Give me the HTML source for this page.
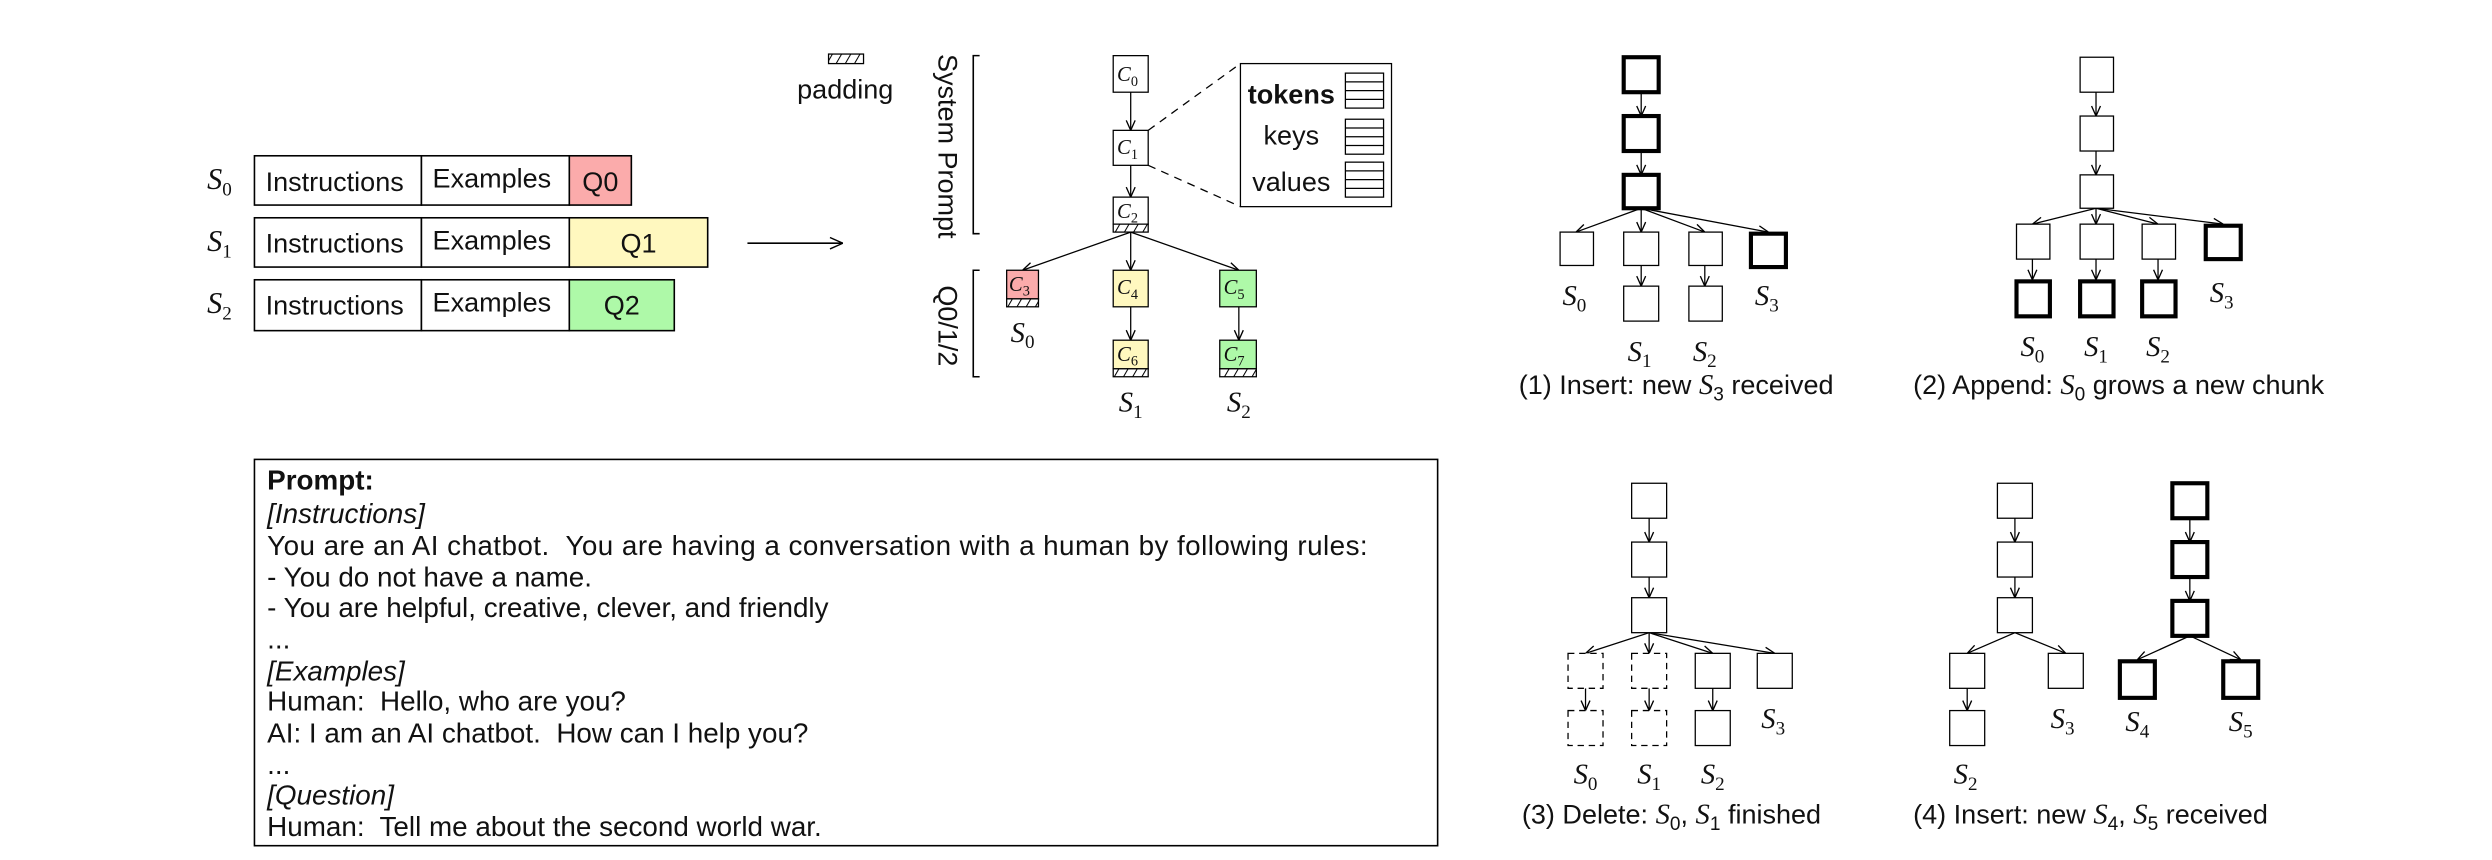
<!DOCTYPE html>
<html><head><meta charset="utf-8"><style>
html,body{margin:0;padding:0;background:#fff;}
svg{display:block;}
text{font-family:"Liberation Sans",sans-serif;fill:#111;white-space:pre;}
.m{font-family:"Liberation Serif",serif;font-style:italic;}
.sub{font-style:normal;}
</style></head><body>
<svg width="2492" height="860" viewBox="0 0 1567 541" preserveAspectRatio="none" xmlns="http://www.w3.org/2000/svg">
<defs>
<marker id="a" viewBox="0 0 10 10" refX="10" refY="5" markerWidth="7" markerHeight="7" orient="auto" markerUnits="userSpaceOnUse">
<path d="M1,1 L10,5 L1,9" fill="none" stroke="#000" stroke-width="1.2"/></marker>
<marker id="b" viewBox="0 0 10 10" refX="10" refY="5" markerWidth="9" markerHeight="9" orient="auto" markerUnits="userSpaceOnUse">
<path d="M1,1 L10,5 L1,9" fill="none" stroke="#000" stroke-width="1"/></marker>
<pattern id="h" width="5" height="5" patternUnits="userSpaceOnUse" patternTransform="rotate(30)">
<rect width="5" height="5" fill="#fff"/><line x1="0" y1="0" x2="0" y2="5" stroke="#000" stroke-width="1.3"/></pattern>
</defs>

<g stroke="#000" stroke-width="1">
<rect x="160" y="98" width="105" height="31" fill="#fff"/><rect x="265" y="98" width="93" height="31" fill="#fff"/><rect x="358" y="98" width="39" height="31" fill="#fbabab"/>
<rect x="160" y="137" width="105" height="31" fill="#fff"/><rect x="265" y="137" width="93" height="31" fill="#fff"/><rect x="358" y="137" width="87" height="31" fill="#fff8bf"/>
<rect x="160" y="176" width="105" height="32" fill="#fff"/><rect x="265" y="176" width="93" height="32" fill="#fff"/><rect x="358" y="176" width="66" height="32" fill="#aef9a8"/>
</g>
<g font-size="17">
<text x="167" y="120">Instructions</text><text x="272" y="118">Examples</text><text x="377.5" y="120" text-anchor="middle">Q0</text>
<text x="167" y="159">Instructions</text><text x="272" y="157">Examples</text><text x="401.5" y="159" text-anchor="middle">Q1</text>
<text x="167" y="198">Instructions</text><text x="272" y="196">Examples</text><text x="391" y="198" text-anchor="middle">Q2</text>
</g>
<g font-size="19">
<text class="m" x="138" y="119" text-anchor="middle">S<tspan class="sub" font-size="12" dy="4">0</tspan></text>
<text class="m" x="138" y="158" text-anchor="middle">S<tspan class="sub" font-size="12" dy="4">1</tspan></text>
<text class="m" x="138" y="197" text-anchor="middle">S<tspan class="sub" font-size="12" dy="4">2</tspan></text>
</g>
<line x1="470" y1="153" x2="530" y2="153" stroke="#000" stroke-width="1" marker-end="url(#b)"/>

<rect x="521" y="34" width="22" height="6" fill="url(#h)" stroke="#000" stroke-width="0.8"/>
<text x="531.5" y="62" font-size="17" text-anchor="middle">padding</text>

<text font-size="17" transform="translate(590,92) rotate(90)" text-anchor="middle">System Prompt</text>
<text font-size="17" transform="translate(590,205) rotate(90)" text-anchor="middle">Q0/1/2</text>
<path d="M616,35 L612,35 L612,147 L616,147" fill="none" stroke="#000" stroke-width="1"/>
<path d="M616,170 L612,170 L612,237 L616,237" fill="none" stroke="#000" stroke-width="1"/>

<g stroke="#000" stroke-width="0.8">
<line x1="711" y1="58" x2="711" y2="82" marker-end="url(#a)"/>
<line x1="711" y1="104" x2="711" y2="124" marker-end="url(#a)"/>
<line x1="711" y1="146" x2="643" y2="170" marker-end="url(#a)"/>
<line x1="711" y1="146" x2="711" y2="170" marker-end="url(#a)"/>
<line x1="711" y1="146" x2="779" y2="170" marker-end="url(#a)"/>
<line x1="711" y1="193" x2="711" y2="214" marker-end="url(#a)"/>
<line x1="779" y1="193" x2="779" y2="214" marker-end="url(#a)"/>
<rect x="700" y="35" width="22" height="23" fill="#fff"/>
<rect x="700" y="82" width="22" height="22" fill="#fff"/>
<rect x="700" y="124" width="22" height="17" fill="#fff"/><rect x="700" y="141" width="22" height="5" fill="url(#h)"/>
<rect x="633" y="170" width="20" height="18" fill="#fbabab"/><rect x="633" y="188" width="20" height="5" fill="url(#h)"/>
<rect x="700" y="170" width="22" height="23" fill="#fff8bf"/>
<rect x="767" y="170" width="23" height="23" fill="#aef9a8"/>
<rect x="700" y="214" width="22" height="18" fill="#fff8bf"/><rect x="700" y="232" width="22" height="5" fill="url(#h)"/>
<rect x="767" y="214" width="23" height="18" fill="#aef9a8"/><rect x="767" y="232" width="23" height="5" fill="url(#h)"/>
<line x1="722" y1="82" x2="780" y2="40" stroke-dasharray="5,4"/>
<line x1="722" y1="104" x2="780" y2="130" stroke-dasharray="5,4"/>
<rect x="780" y="40" width="95" height="90" fill="#fff"/>
</g>
<g font-size="13">
<text class="m" x="709" y="51" text-anchor="middle">C<tspan class="sub" font-size="9" dy="3">0</tspan></text>
<text class="m" x="709" y="97" text-anchor="middle">C<tspan class="sub" font-size="9" dy="3">1</tspan></text>
<text class="m" x="709" y="137" text-anchor="middle">C<tspan class="sub" font-size="9" dy="3">2</tspan></text>
<text class="m" x="641" y="183" text-anchor="middle">C<tspan class="sub" font-size="9" dy="3">3</tspan></text>
<text class="m" x="709" y="185" text-anchor="middle">C<tspan class="sub" font-size="9" dy="3">4</tspan></text>
<text class="m" x="776" y="185" text-anchor="middle">C<tspan class="sub" font-size="9" dy="3">5</tspan></text>
<text class="m" x="709" y="227" text-anchor="middle">C<tspan class="sub" font-size="9" dy="3">6</tspan></text>
<text class="m" x="776" y="227" text-anchor="middle">C<tspan class="sub" font-size="9" dy="3">7</tspan></text>
</g>
<g font-size="17">
<text x="812" y="65" text-anchor="middle" font-weight="bold">tokens</text>
<text x="812" y="91" text-anchor="middle">keys</text>
<text x="812" y="120" text-anchor="middle">values</text>
</g>
<g stroke="#000" stroke-width="0.8" fill="#fff">
<rect x="846" y="46" width="24" height="22"/><line x1="846" y1="51.5" x2="870" y2="51.5"/><line x1="846" y1="57" x2="870" y2="57"/><line x1="846" y1="62.5" x2="870" y2="62.5"/>
<rect x="846" y="75" width="24" height="22"/><line x1="846" y1="80.5" x2="870" y2="80.5"/><line x1="846" y1="86" x2="870" y2="86"/><line x1="846" y1="91.5" x2="870" y2="91.5"/>
<rect x="846" y="102" width="24" height="22"/><line x1="846" y1="107.5" x2="870" y2="107.5"/><line x1="846" y1="113" x2="870" y2="113"/><line x1="846" y1="118.5" x2="870" y2="118.5"/>
</g>
<g font-size="18">
<text class="m" x="643" y="215" text-anchor="middle">S<tspan class="sub" font-size="12" dy="4">0</tspan></text>
<text class="m" x="711" y="259" text-anchor="middle">S<tspan class="sub" font-size="12" dy="4">1</tspan></text>
<text class="m" x="779" y="259" text-anchor="middle">S<tspan class="sub" font-size="12" dy="4">2</tspan></text>
</g>

<rect x="160" y="289" width="744" height="243" fill="#fff" stroke="#000" stroke-width="1"/>
<g font-size="17.5">
<text x="168" y="308" font-weight="bold">Prompt:</text>
<text x="168" y="329" font-style="italic">[Instructions]</text>
<text x="168" y="349" textLength="692" lengthAdjust="spacing">You are an AI chatbot.  You are having a conversation with a human by following rules:</text>
<text x="168" y="369">- You do not have a name.</text>
<text x="168" y="388">- You are helpful, creative, clever, and friendly</text>
<text x="168" y="408">...</text>
<text x="168" y="428" font-style="italic">[Examples]</text>
<text x="168" y="447">Human:  Hello, who are you?</text>
<text x="168" y="467">AI: I am an AI chatbot.  How can I help you?</text>
<text x="168" y="487">...</text>
<text x="168" y="506" font-style="italic">[Question]</text>
<text x="168" y="526">Human:  Tell me about the second world war.</text>
</g>

<g stroke="#000" stroke-width="0.8" fill="#fff">
<line x1="1032" y1="58" x2="1032" y2="73" marker-end="url(#a)"/>
<line x1="1032" y1="95" x2="1032" y2="110" marker-end="url(#a)"/>
<line x1="1032" y1="131" x2="991" y2="146" marker-end="url(#a)"/>
<line x1="1032" y1="131" x2="1032" y2="146" marker-end="url(#a)"/>
<line x1="1032" y1="131" x2="1072" y2="146" marker-end="url(#a)"/>
<line x1="1032" y1="131" x2="1112" y2="146" marker-end="url(#a)"/>
<line x1="1032" y1="167" x2="1032" y2="180" marker-end="url(#a)"/>
<line x1="1072" y1="167" x2="1072" y2="180" marker-end="url(#a)"/>
<rect x="981" y="146" width="21" height="21"/><rect x="1021" y="146" width="22" height="21"/><rect x="1062" y="146" width="21" height="21"/>
<rect x="1021" y="180" width="22" height="22"/><rect x="1062" y="180" width="21" height="22"/>
<g stroke-width="2.6"><rect x="1021" y="36" width="22" height="22"/><rect x="1021" y="73" width="22" height="22"/><rect x="1021" y="110" width="22" height="21"/><rect x="1101" y="147" width="22" height="21"/></g>
</g>
<g stroke="#000" stroke-width="0.8" fill="#fff">
<line x1="1318" y1="58" x2="1318" y2="73" marker-end="url(#a)"/>
<line x1="1318" y1="95" x2="1318" y2="110" marker-end="url(#a)"/>
<line x1="1318" y1="131" x2="1278" y2="141" marker-end="url(#a)"/>
<line x1="1318" y1="131" x2="1318" y2="141" marker-end="url(#a)"/>
<line x1="1318" y1="131" x2="1357" y2="141" marker-end="url(#a)"/>
<line x1="1318" y1="131" x2="1398" y2="141" marker-end="url(#a)"/>
<line x1="1278" y1="163" x2="1278" y2="176" marker-end="url(#a)"/>
<line x1="1318" y1="163" x2="1318" y2="176" marker-end="url(#a)"/>
<line x1="1357" y1="163" x2="1357" y2="176" marker-end="url(#a)"/>
<rect x="1308" y="36" width="21" height="22"/><rect x="1308" y="73" width="21" height="22"/><rect x="1308" y="110" width="21" height="21"/>
<rect x="1268" y="141" width="21" height="22"/><rect x="1308" y="141" width="21" height="22"/><rect x="1347" y="141" width="21" height="22"/>
<g stroke-width="2.6"><rect x="1387" y="142" width="22" height="21"/><rect x="1268" y="177" width="21" height="22"/><rect x="1308" y="177" width="21" height="22"/><rect x="1347" y="177" width="21" height="22"/></g>
</g>
<g stroke="#000" stroke-width="0.8" fill="#fff">
<line x1="1037" y1="326" x2="1037" y2="341" marker-end="url(#a)"/>
<line x1="1037" y1="363" x2="1037" y2="376" marker-end="url(#a)"/>
<line x1="1037" y1="398" x2="997" y2="411" marker-end="url(#a)"/>
<line x1="1037" y1="398" x2="1037" y2="411" marker-end="url(#a)"/>
<line x1="1037" y1="398" x2="1077" y2="411" marker-end="url(#a)"/>
<line x1="1037" y1="398" x2="1116" y2="411" marker-end="url(#a)"/>
<line x1="997" y1="433" x2="997" y2="447" marker-end="url(#a)"/>
<line x1="1037" y1="433" x2="1037" y2="447" marker-end="url(#a)"/>
<line x1="1077" y1="433" x2="1077" y2="447" marker-end="url(#a)"/>
<rect x="1026" y="304" width="22" height="22"/><rect x="1026" y="341" width="22" height="22"/><rect x="1026" y="376" width="22" height="22"/>
<rect x="1066" y="411" width="22" height="22"/><rect x="1105" y="411" width="22" height="22"/><rect x="1066" y="447" width="22" height="22"/>
<g stroke-dasharray="4,3"><rect x="986" y="411" width="22" height="22"/><rect x="1026" y="411" width="22" height="22"/><rect x="986" y="447" width="22" height="22"/><rect x="1026" y="447" width="22" height="22"/></g>
</g>
<g stroke="#000" stroke-width="0.8" fill="#fff">
<line x1="1267" y1="326" x2="1267" y2="341" marker-end="url(#a)"/>
<line x1="1267" y1="363" x2="1267" y2="376" marker-end="url(#a)"/>
<line x1="1267" y1="398" x2="1237" y2="411" marker-end="url(#a)"/>
<line x1="1267" y1="398" x2="1299" y2="411" marker-end="url(#a)"/>
<line x1="1237" y1="433" x2="1237" y2="447" marker-end="url(#a)"/>
<line x1="1377" y1="326" x2="1377" y2="341" marker-end="url(#a)"/>
<line x1="1377" y1="363" x2="1377" y2="378" marker-end="url(#a)"/>
<line x1="1377" y1="400" x2="1344" y2="415" marker-end="url(#a)"/>
<line x1="1377" y1="400" x2="1409" y2="415" marker-end="url(#a)"/>
<rect x="1256" y="304" width="22" height="22"/><rect x="1256" y="341" width="22" height="22"/><rect x="1256" y="376" width="22" height="22"/>
<rect x="1226" y="411" width="22" height="22"/><rect x="1288" y="411" width="22" height="22"/><rect x="1226" y="447" width="22" height="22"/>
<g stroke-width="2.6"><rect x="1366" y="304" width="22" height="22"/><rect x="1366" y="341" width="22" height="22"/><rect x="1366" y="378" width="22" height="22"/><rect x="1333" y="416" width="22" height="23"/><rect x="1398" y="416" width="22" height="23"/></g>
</g>

<g font-size="18">
<text class="m" x="990" y="192" text-anchor="middle">S<tspan class="sub" font-size="12" dy="4">0</tspan></text>
<text class="m" x="1111" y="192" text-anchor="middle">S<tspan class="sub" font-size="12" dy="4">3</tspan></text>
<text class="m" x="1031" y="227" text-anchor="middle">S<tspan class="sub" font-size="12" dy="4">1</tspan></text>
<text class="m" x="1072" y="227" text-anchor="middle">S<tspan class="sub" font-size="12" dy="4">2</tspan></text>
<text class="m" x="1397" y="190" text-anchor="middle">S<tspan class="sub" font-size="12" dy="4">3</tspan></text>
<text class="m" x="1278" y="224" text-anchor="middle">S<tspan class="sub" font-size="12" dy="4">0</tspan></text>
<text class="m" x="1318" y="224" text-anchor="middle">S<tspan class="sub" font-size="12" dy="4">1</tspan></text>
<text class="m" x="1357" y="224" text-anchor="middle">S<tspan class="sub" font-size="12" dy="4">2</tspan></text>
<text class="m" x="1115" y="458" text-anchor="middle">S<tspan class="sub" font-size="12" dy="4">3</tspan></text>
<text class="m" x="997" y="493" text-anchor="middle">S<tspan class="sub" font-size="12" dy="4">0</tspan></text>
<text class="m" x="1037" y="493" text-anchor="middle">S<tspan class="sub" font-size="12" dy="4">1</tspan></text>
<text class="m" x="1077" y="493" text-anchor="middle">S<tspan class="sub" font-size="12" dy="4">2</tspan></text>
<text class="m" x="1297" y="458" text-anchor="middle">S<tspan class="sub" font-size="12" dy="4">3</tspan></text>
<text class="m" x="1236" y="493" text-anchor="middle">S<tspan class="sub" font-size="12" dy="4">2</tspan></text>
<text class="m" x="1344" y="460" text-anchor="middle">S<tspan class="sub" font-size="12" dy="4">4</tspan></text>
<text class="m" x="1409" y="460" text-anchor="middle">S<tspan class="sub" font-size="12" dy="4">5</tspan></text>
</g>
<g font-size="17">
<text x="955" y="248">(1) Insert: new <tspan class="m" font-size="18">S</tspan><tspan font-size="12" dy="4">3</tspan><tspan dy="-4"> received</tspan></text>
<text x="1203" y="248">(2) Append: <tspan class="m" font-size="18">S</tspan><tspan font-size="12" dy="4">0</tspan><tspan dy="-4"> grows a new chunk</tspan></text>
<text x="957" y="518">(3) Delete: <tspan class="m" font-size="18">S</tspan><tspan font-size="12" dy="4">0</tspan><tspan dy="-4">, </tspan><tspan class="m" font-size="18">S</tspan><tspan font-size="12" dy="4">1</tspan><tspan dy="-4"> finished</tspan></text>
<text x="1203" y="518">(4) Insert: new <tspan class="m" font-size="18">S</tspan><tspan font-size="12" dy="4">4</tspan><tspan dy="-4">, </tspan><tspan class="m" font-size="18">S</tspan><tspan font-size="12" dy="4">5</tspan><tspan dy="-4"> received</tspan></text>
</g>
</svg>
</body></html>
